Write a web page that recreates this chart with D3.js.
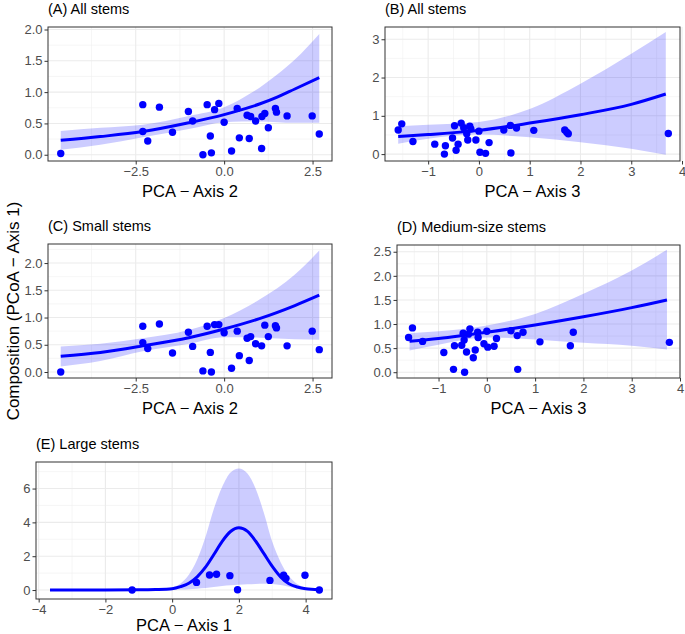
<!DOCTYPE html>
<meta charset="utf-8">
<style>
body { margin: 0; background: #fff; }
svg { font-family: "Liberation Sans", Arial, sans-serif; }
.grid-major { stroke: #ebebeb; stroke-width: 1.1px; }
.grid-minor { stroke: #f0f0f0; stroke-width: 0.6px; }
.tick text { fill: #4d4d4d; font-size: 13px; }
.tick line { stroke: #333; }
</style>
<body>
<script src="https://cdn.jsdelivr.net/npm/d3@7"></script>
<script>

// ---- data ----

// (A) All stems vs PCA axis 2
var aX = [-4.62, -2.3, -2.3, -2.16, -1.83, -1.46, -1.01, -0.89, -0.6, -0.48, -0.39, -0.36, -0.27, -0.15, 0.0, 0.21,
          0.37, 0.43, 0.65, 0.71, 0.75, 0.89, 1.06, 1.07, 1.15, 1.25, 1.45, 1.48, 1.78, 2.49, 2.69];
var aY = [0.02, 0.80, 0.37, 0.22, 0.76, 0.36, 0.69, 0.54, 0.0, 0.80, 0.30, 0.03, 0.72, 0.82, 0.52, 0.06,
          0.74, 0.27, 0.63, 0.26, 0.61, 0.54, 0.10, 0.61, 0.66, 0.43, 0.74, 0.68, 0.62, 0.62, 0.33];
var aFitX = [-4.62, -3.5, -2.3, -1, 0, 0.5, 1, 1.5, 2, 2.69];
var aFit  = [0.23, 0.29, 0.37, 0.51, 0.64, 0.72, 0.81, 0.92, 1.05, 1.23];
var aHi   = [0.38, 0.43, 0.48, 0.62, 0.76, 0.90, 1.07, 1.28, 1.52, 1.93];
var aLo   = [0.08, 0.16, 0.28, 0.41, 0.52, 0.53, 0.53, 0.52, 0.51, 0.51];

// (B) All stems vs PCA axis 3
var bX = [-1.59, -1.52, -1.30, -0.87, -0.68, -0.66, -0.52, -0.48, -0.45, -0.41, -0.35, -0.30, -0.24, -0.22, -0.18,
          -0.16, -0.06, 0.0, 0.02, 0.13, 0.20, 0.49, 0.62, 0.63, 0.74, 1.08, 1.69, 1.73, 1.76, 3.73];
var bY = [0.63, 0.79, 0.33, 0.26, 0.0, 0.22, 0.42, 0.74, 0.10, 0.26, 0.81, 0.69, 0.53, 0.37, 0.73,
          0.66, 0.37, 0.60, 0.05, 0.02, 0.30, 0.63, 0.75, 0.03, 0.68, 0.62, 0.63, 0.57, 0.53, 0.54];
var bFitX = [-1.59, -1, 0, 1, 2, 3, 3.68];
var bFit  = [0.46, 0.51, 0.62, 0.81, 1.03, 1.30, 1.57];
var bHi   = [0.73, 0.77, 0.84, 1.18, 1.84, 2.62, 3.19];
var bLo   = [0.27, 0.40, 0.51, 0.44, 0.31, 0.14, -0.02];

// (C) Small stems vs PCA axis 2
var cX = [-4.62, -2.3, -2.3, -2.16, -1.83, -1.46, -1.01, -0.89, -0.6, -0.48, -0.39, -0.36, -0.27, -0.15, 0.0, 0.21,
          0.37, 0.43, 0.65, 0.71, 0.75, 0.89, 1.06, 1.15, 1.25, 1.45, 1.48, 1.78, 2.49, 2.69];
var cY = [0.0, 0.54, 0.84, 0.43, 0.88, 0.35, 0.73, 0.47, 0.02, 0.84, 0.36, 0.0, 0.87, 0.87, 0.72, 0.07,
          0.75, 0.30, 0.62, 0.21, 0.65, 0.52, 0.48, 0.86, 0.65, 0.85, 0.81, 0.48, 0.75, 0.41];
var cFitX = [-4.62, -3.5, -2.3, -1, 0, 1, 2, 2.69];
var cFit  = [0.29, 0.36, 0.48, 0.63, 0.79, 0.98, 1.22, 1.41];
var cHi   = [0.47, 0.52, 0.62, 0.77, 0.99, 1.33, 1.79, 2.23];
var cLo   = [0.10, 0.20, 0.38, 0.52, 0.64, 0.63, 0.60, 0.59];

// (D) Medium-size stems vs PCA axis 3
var dX = [-1.62, -1.54, -1.33, -0.89, -0.69, -0.67, -0.52, -0.49, -0.47, -0.46, -0.42, -0.38, -0.35, -0.28, -0.24,
          -0.19, -0.18, -0.06, 0.0, 0.02, 0.15, 0.20, 0.5, 0.63, 0.64, 0.75, 1.10, 1.73, 1.79, 3.78];
var dY = [0.72, 0.92, 0.64, 0.41, 0.06, 0.55, 0.56, 0.81, 0.67, 0.0, 0.42, 0.79, 0.90, 0.30, 0.46,
          0.83, 0.72, 0.59, 0.85, 0.52, 0.54, 0.70, 0.86, 0.76, 0.06, 0.83, 0.63, 0.55, 0.83, 0.62];
var dFitX = [-1.60, -1, 0, 1, 2, 3, 3.73];
var dFit  = [0.64, 0.70, 0.83, 0.98, 1.15, 1.34, 1.50];
var dHi   = [0.81, 0.85, 0.97, 1.21, 1.63, 2.11, 2.54];
var dLo   = [0.45, 0.57, 0.72, 0.68, 0.61, 0.55, 0.47];

// (E) Large stems vs PCA axis 1
var eX = [-1.2, 0.73, 1.12, 1.33, 1.73, 1.96, 2.93, 3.34, 3.41, 3.98, 4.41];
var eY = [0.0, 0.45, 0.89, 0.93, 0.85, 0.02, 0.57, 0.87, 0.69, 0.87, 0.0];
var eFitX = [-3.66, -2, -1, -0.5, 0, 0.25, 0.5, 0.75, 1, 1.25, 1.5, 1.75, 2, 2.25, 2.5, 2.75, 3, 3.25, 3.5, 3.75, 4, 4.4];
var eFit  = [0.0, 0.0, 0.01, 0.03, 0.08, 0.2, 0.4, 0.78, 1.35, 2.1, 2.88, 3.46, 3.68, 3.48, 2.9, 2.15, 1.4, 0.78, 0.37, 0.18, 0.08, 0.03];
var eHi   = [0.0, 0.0, 0.02, 0.05, 0.15, 0.38, 0.9, 1.8, 3.15, 4.8, 6.1, 6.95, 7.18, 6.9, 6.0, 4.55, 2.85, 1.65, 0.83, 0.36, 0.15, 0.05];
var eLo   = [0.0, 0.0, 0.0, 0.01, 0.02, 0.03, 0.05, 0.08, 0.12, 0.18, 0.24, 0.28, 0.31, 0.34, 0.36, 0.37, 0.36, 0.3, 0.2, 0.1, 0.04, 0.01];

// tick values
var ticksAxis2 = [-2.5, 0, 2.5];
var ticksAxis3 = [-1, 0, 1, 2, 3, 4];
var ticksAxis1 = [-4, -2, 0, 2, 4];
var ticksYA = [0, 0.5, 1, 1.5, 2];
var ticksYB = [0, 1, 2, 3];
var ticksYC = [0, 0.5, 1, 1.5, 2];
var ticksYD = [0, 0.5, 1, 1.5, 2, 2.5];
var ticksYE = [0, 2, 4, 6];

var titles = ["(A) All stems", "(B) All stems", "(C) Small stems", "(D) Medium-size stems", "(E) Large stems"];
var xTitles = ["PCA \u2212 Axis 2", "PCA \u2212 Axis 3", "PCA \u2212 Axis 2", "PCA \u2212 Axis 3", "PCA \u2212 Axis 1"];
var yTitle = "Composition (PCoA \u2212 Axis 1)";

// ---- drawing ----
var svg = d3.select("body").append("svg")
    .attr("width", 685)
    .attr("height", 634);

svg.append("rect").attr("width", 685).attr("height", 634).attr("fill", "#fff");

function minors(ticks, dom) {
  var step = ticks[1] - ticks[0], out = [];
  for (var v = ticks[0] - step * 1.5; v <= dom[1]; v += step) {
    if (v >= dom[0]) out.push(v);
  }
  return out;
}

function panel(p) {
  var x = d3.scaleLinear().domain(p.xd).range([p.l, p.r]);
  var y = d3.scaleLinear().domain(p.yd).range([p.b, p.t]);
  var g = svg.append("g");

  // grid
  g.selectAll(".mx").data(minors(p.xt, p.xd)).enter().append("line")
      .attr("class", "grid-minor")
      .attr("x1", x).attr("x2", x).attr("y1", p.t).attr("y2", p.b);
  g.selectAll(".my").data(minors(p.yt, p.yd)).enter().append("line")
      .attr("class", "grid-minor")
      .attr("y1", y).attr("y2", y).attr("x1", p.l).attr("x2", p.r);
  g.selectAll(".gx").data(p.xt).enter().append("line")
      .attr("class", "grid-major")
      .attr("x1", x).attr("x2", x).attr("y1", p.t).attr("y2", p.b);
  g.selectAll(".gy").data(p.yt).enter().append("line")
      .attr("class", "grid-major")
      .attr("y1", y).attr("y2", y).attr("x1", p.l).attr("x2", p.r);

  var fit = p.fx.map(function(v, i) { return {x: v, y: p.fy[i], lo: p.lo[i], hi: p.hi[i]}; });

  // confidence ribbon
  g.append("path")
      .datum(fit)
      .attr("fill", "blue")
      .attr("fill-opacity", 0.2)
      .attr("d", d3.area().curve(d3.curveMonotoneX)
        .x(function(d) { return x(d.x); })
        .y0(function(d) { return y(d.lo); })
        .y1(function(d) { return y(d.hi); }));

  // fitted line
  g.append("path")
      .datum(fit)
      .attr("fill", "none")
      .attr("stroke", "blue")
      .attr("stroke-width", 3)
      .attr("d", d3.line().curve(d3.curveMonotoneX)
        .x(function(d) { return x(d.x); })
        .y(function(d) { return y(d.y); }));

  // points
  g.selectAll(".pt").data(p.px).enter().append("circle")
      .attr("cx", function(d) { return x(d); })
      .attr("cy", function(d, i) { return y(p.py[i]); })
      .attr("r", 3.7)
      .attr("fill", "blue");

  // border
  g.append("rect")
      .attr("x", p.l).attr("y", p.t)
      .attr("width", p.r - p.l).attr("height", p.b - p.t)
      .attr("fill", "none")
      .attr("stroke", "#333")
      .attr("stroke-width", 1);

  // axes
  var ax = g.append("g")
      .attr("transform", "translate(0," + p.b + ")")
      .call(d3.axisBottom(x).tickValues(p.xt).tickFormat(d3.format(p.xf)).tickSize(3.5).tickPadding(2));
  ax.select(".domain").remove();
  var ay = g.append("g")
      .attr("transform", "translate(" + p.l + ",0)")
      .call(d3.axisLeft(y).tickValues(p.yt).tickFormat(d3.format(p.yf)).tickSize(3.5).tickPadding(2));
  ay.select(".domain").remove();
  g.selectAll(".tick text").attr("font-family", null).attr("font-size", null);

  // titles
  g.append("text")
      .attr("x", p.l)
      .attr("y", p.t - 13)
      .style("font-size", "14.5px")
      .text(p.title);
  g.append("text")
      .attr("x", (p.l + p.r) / 2)
      .attr("y", p.b + p.xo)
      .attr("text-anchor", "middle")
      .style("font-size", "16.5px")
      .text(p.xtitle);
}

panel({l: 48, r: 332, t: 27, b: 161, xd: [-4.98, 3.05], yd: [-0.1, 2.04], xo: 36,
       xt: ticksAxis2, yt: ticksYA, xf: ".1f", yf: ".1f",
       px: aX, py: aY, fx: aFitX, fy: aFit, lo: aLo, hi: aHi, title: titles[0], xtitle: xTitles[0]});
panel({l: 385, r: 680, t: 27, b: 161, xd: [-1.85, 3.96], yd: [-0.18, 3.32], xo: 36,
       xt: ticksAxis3, yt: ticksYB, xf: "d", yf: "d",
       px: bX, py: bY, fx: bFitX, fy: bFit, lo: bLo, hi: bHi, title: titles[1], xtitle: xTitles[1]});
panel({l: 48, r: 332, t: 244, b: 378, xd: [-4.98, 3.05], yd: [-0.11, 2.35], xo: 36,
       xt: ticksAxis2, yt: ticksYC, xf: ".1f", yf: ".1f",
       px: cX, py: cY, fx: cFitX, fy: cFit, lo: cLo, hi: cHi, title: titles[2], xtitle: xTitles[2]});
panel({l: 397, r: 680, t: 245, b: 378, xd: [-1.86, 4.0], yd: [-0.12, 2.64], xo: 36,
       xt: ticksAxis3, yt: ticksYD, xf: "d", yf: ".1f",
       px: dX, py: dY, fx: dFitX, fy: dFit, lo: dLo, hi: dHi, title: titles[3], xtitle: xTitles[3]});
panel({l: 36, r: 332, t: 462, b: 599, xd: [-4.08, 4.79], yd: [-0.53, 7.57], xo: 32,
       xt: ticksAxis1, yt: ticksYE, xf: "d", yf: "d",
       px: eX, py: eY, fx: eFitX, fy: eFit, lo: eLo, hi: eHi, title: titles[4], xtitle: xTitles[4]});

// shared y title
svg.append("text")
    .attr("transform", "translate(19,311) rotate(-90)")
    .attr("text-anchor", "middle")
    .style("font-size", "17px")
    .text(yTitle);

</script>
</body>
